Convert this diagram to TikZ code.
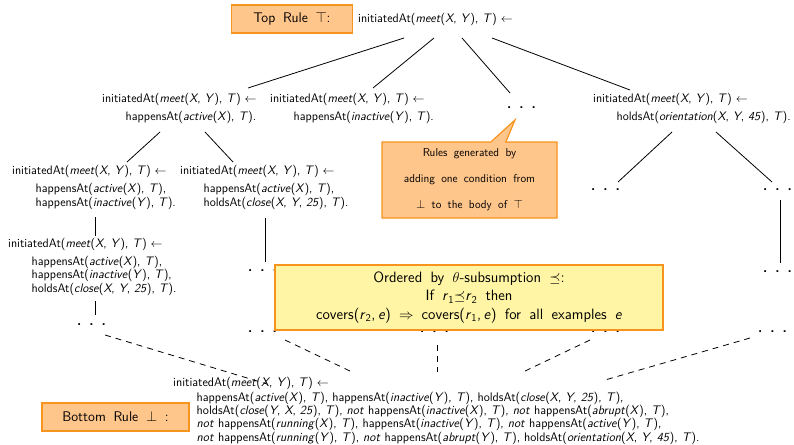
\documentclass[tikz,border=0pt]{standalone}
\usepackage{amsmath,amssymb}
\usepackage{xcolor}
\usepackage{tikz}
\usetikzlibrary{positioning,shapes.callouts}
\definecolor{tagfill}{HTML}{FFC68C}
\definecolor{tagdraw}{HTML}{F7941D}
\definecolor{notefill}{HTML}{FFF5A5}

\newcommand{\rulefont}{\sffamily\fontsize{12.3}{13.5}\selectfont}
\newcommand{\widefont}[2]{\sffamily\fontsize{#1}{#2}\selectfont\spaceskip=.55em\relax}
\newcommand{\vX}{\textit{X}}
\newcommand{\vY}{\textit{Y}}
\newcommand{\vT}{\textit{T}}
\newcommand{\headtxt}{initiatedAt(\textit{meet}(\vX, \vY), \vT) $\leftarrow$}
\newcommand{\happ}[2]{happensAt(\textit{#1}(#2), \vT)}
\newcommand{\holds}[2]{holdsAt(\textit{#1}(#2), \vT)}
\newcommand{\naf}{\textit{not} }
\newcommand{\bodyind}{\hspace*{23.5pt}}
\newcommand{\moredots}{.\hspace{8pt}.\hspace{8pt}.}

\begin{document}
\begin{tikzpicture}[
  x=1pt,y=-1pt,
  rulenode/.style={anchor=west,align=left,inner sep=0pt,font=\rulefont},
  etcnode/.style={inner sep=0pt,font=\sffamily\bfseries\fontsize{14}{14}\selectfont},
  tag/.style={draw=tagdraw,line width=1.2pt,fill=tagfill,inner sep=0pt,minimum height=28pt,font=\widefont{14}{16}},
  notebox/.style={draw=tagdraw,line width=1.2pt,fill=notefill,inner sep=0pt,align=center,
    minimum width=388pt,minimum height=65pt,font=\widefont{15}{18.5}},
  genbox/.style={rectangle callout,draw=tagdraw,line width=1.2pt,fill=tagfill,inner sep=0pt,align=center,
    minimum width=175pt,minimum height=76pt,callout pointer width=15pt,font=\widefont{11.5}{26}},
  link/.style={line width=.8pt},
  sublink/.style={link,dash pattern=on 6pt off 5pt}
]
\useasboundingbox (0,0) rectangle (794,444);

% top rule
\node[rulenode] (top) at (358,19) {\headtxt};
\node[tag,left=5pt of top,minimum width=121pt] (toptag) {Top Rule $\top$:};

% one condition added
\node[rulenode] (act) at (102,108.5) {\headtxt\\[4.5pt]\bodyind\happ{active}{\vX}.};
\node[rulenode] (inact) at (270,108.5) {\headtxt\\[4.5pt]\bodyind\happ{inactive}{\vY}.};
\node[etcnode] (etcone) at (521.5,108) {\moredots};
\node[rulenode] (orient) at (593,108.5) {\headtxt\\[4.5pt]\bodyind\holds{orientation}{\vX, \vY, \textit{45}}.};

% two conditions
\node[rulenode] (actinact) at (12,187.5) {\headtxt\\[4.5pt]\bodyind\happ{active}{\vX},\\\bodyind\happ{inactive}{\vY}.};
\node[rulenode] (actclose) at (180,187.5) {\headtxt\\[4.5pt]\bodyind\happ{active}{\vX},\\\bodyind\holds{close}{\vX, \vY, \textit{25}}.};
\node[etcnode] (orientl) at (605.5,190) {\moredots};
\node[etcnode] (orientr) at (777.5,190) {\moredots};

% three conditions
\node[rulenode] (full) at (8,266.5) {\headtxt\\[4.5pt]\bodyind\happ{active}{\vX},\\\bodyind\happ{inactive}{\vY},\\\bodyind\holds{close}{\vX, \vY, \textit{25}}.};
\node[etcnode] (closeetc) at (262.5,271) {\moredots};
\node[etcnode] (orientetc) at (777.5,272) {\moredots};

\node[etcnode] (ea) at (91.5,325) {\moredots};
\node[etcnode] (eb) at (262.5,332) {\moredots};
\node[etcnode] (ec) at (434.5,332) {\moredots};
\node[etcnode] (ed) at (605.5,332) {\moredots};
\node[etcnode] (ee) at (772.5,332) {\moredots};

% bottom rule
\node[rulenode,font=\sffamily\fontsize{12.4}{13.3}\selectfont] (bot) at (173,410.5) {\headtxt\\[1.7pt]
  \bodyind\happ{active}{\vX}, \happ{inactive}{\vY}, \holds{close}{\vX, \vY, \textit{25}},\\
  \bodyind\holds{close}{\vY, \vX, \textit{25}}, \naf\happ{inactive}{\vX}, \naf\happ{abrupt}{\vX},\\
  \bodyind\naf\happ{running}{\vX}, \happ{inactive}{\vY}, \naf\happ{active}{\vY},\\
  \bodyind\naf\happ{running}{\vY}, \naf\happ{abrupt}{\vY}, \holds{orientation}{\vX, \vY, \textit{45}}.};
\node[tag,minimum width=147pt] (bottag) at (115.5,417) {Bottom Rule $\bot$ :};

\draw[link] ([shift={(46,19)}]top.west) -- ([shift={(146,-20.5)}]act.west);
\draw[link] ([shift={(76,19)}]top.west) -- ([shift={(103,-20.5)}]inact.west);
\draw[link] ([shift={(104,19)}]top.west) -- ([shift={(-11.5,-15)}]etcone.center);
\draw[link] ([shift={(134,19)}]top.west) -- ([shift={(37,-18.5)}]orient.west);
\draw[link] ([shift={(58,23.5)}]act.west) -- ([shift={(115,-25.5)}]actinact.west);
\draw[link] ([shift={(103,23.5)}]act.west) -- ([shift={(53,-25.5)}]actclose.west);
\draw[link] ([shift={(79,23.5)}]orient.west) -- ([shift={(12.5,-8)}]orientl.center);
\draw[link] ([shift={(123,23.5)}]orient.west) -- ([shift={(-5.5,-8)}]orientr.center);
\draw[link] ([shift={(83,29.5)}]actinact.west) -- ([shift={(87,-30.5)}]full.west);
\draw[link] ([shift={(87,34.5)}]full.west) -- ([shift={(3.5,-10)}]ea.center);
\draw[link] ([shift={(85,30.5)}]actclose.west) -- ([shift={(2.5,-9)}]closeetc.center);
\draw[link] ([shift={(2.5,10)}]orientr.center) -- ([shift={(2.5,-9)}]orientetc.center);

\draw[sublink] ([shift={(13.5,10)}]ea.center) -- ([shift={(94,-26.5)}]bot.west);
\draw[sublink] ([shift={(22.5,8)}]eb.center) -- ([shift={(179,-38.5)}]bot.west);
\draw[sublink] ([shift={(2.5,13)}]ec.center) -- ([shift={(264,-38.5)}]bot.west);
\draw[sublink] ([shift={(-15.5,8)}]ed.center) -- ([shift={(350,-38.5)}]bot.west);
\draw[sublink] ([shift={(-22.5,6)}]ee.center) -- ([shift={(432,-30.5)}]bot.west);

\node[notebox] (order) at (469,297.5) {Ordered by $\theta$-subsumption $\preceq$:\\
  If \textit{r}\textsubscript{1}$\preceq$\textit{r}\textsubscript{2} then\\
  covers(\textit{r}\textsubscript{2},\,\textit{e}) $\Rightarrow$ covers(\textit{r}\textsubscript{1},\,\textit{e}) for all examples \textit{e}};
\node[genbox,callout absolute pointer={([shift={(-6.5,12)}]etcone.center)}] (gen) at (469.5,180)
  {Rules generated by\\adding one condition from\\$\bot$ to the body of $\top$};
\end{tikzpicture}
\end{document}
